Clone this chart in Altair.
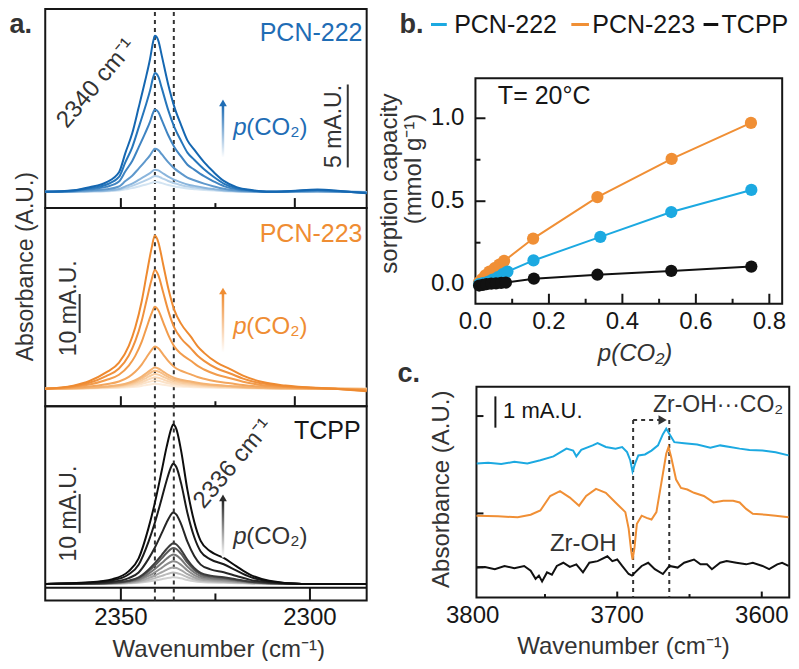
import altair as alt
import pandas as pd

# ======================= DATA =======================
# ---- panel a : CO2 band, normalised profiles (wavenumber / relative height)
A222_WN = [2370, 2362.6, 2358.3, 2353.9, 2350.5, 2348.8, 2347.0, 2345.3, 2343.6, 2342.3,
           2341.4, 2341.0, 2340.1, 2339.2, 2337.5, 2335.8, 2334.1, 2332.4, 2330.6, 2328.0,
           2325.4, 2322.8, 2319.4, 2315.1, 2310.8, 2305.0, 2298.0, 2292.0, 2285]
A222_PROF = [0.0, 0.01, 0.03, 0.06, 0.125, 0.25, 0.375, 0.54, 0.71, 0.85,
             0.97, 1.0, 0.97, 0.875, 0.69, 0.54, 0.43, 0.33, 0.27, 0.19,
             0.125, 0.07, 0.03, 0.01, 0.0, 0.005, 0.015, 0.005, -0.01]
A222_PEAK = [0.6, 0.95, 1.33, 2.59, 4.96, 7.16, 9.4]          # mA.U., rising p(CO2)
A222_COL = ["#d3e4f2", "#b4d0e9", "#8ab5dc", "#5e98cc", "#3f84c2", "#2676bb", "#1567b1"]

A223_WN = [2370, 2362.6, 2358.3, 2353.9, 2350.5, 2347.9, 2346.2, 2344.5, 2343.2, 2341.9,
           2341.0, 2340.1, 2338.8, 2337.5, 2335.8, 2334.1, 2331.5, 2329.7, 2328.0, 2324.6,
           2321.1, 2317.7, 2312.5, 2306.5, 2293.5, 2285]
A223_PROF = [0.0, 0.02, 0.05, 0.106, 0.17, 0.28, 0.40, 0.57, 0.745, 0.915,
             1.0, 0.957, 0.81, 0.66, 0.51, 0.425, 0.34, 0.277, 0.234, 0.17,
             0.128, 0.085, 0.043, 0.02, 0.0, -0.017]
A223_PEAK = [1.25, 2.1, 2.9, 3.75, 4.6, 5.4, 10.8, 21.0, 30.4, 39.2]
A223_COL = ["#fcebd9", "#fbe2c8", "#fad8b5", "#f8cda0", "#f6c08a", "#f4b373",
            "#f3a65d", "#f29c4c", "#f0913d", "#ee8a30"]

ATC_WN = [2370, 2358.3, 2352.2, 2347.9, 2345.3, 2342.7, 2341.0, 2339.2, 2337.9, 2336.6,
          2336.2, 2335.3, 2334.1, 2332.4, 2330.6, 2328.9, 2326.3, 2322.8, 2319.4, 2316.0,
          2310.8, 2302.1, 2285]
ATC_PROF = [0.0, 0.01, 0.03, 0.08, 0.16, 0.35, 0.51, 0.71, 0.86, 0.98,
            1.0, 0.97, 0.84, 0.59, 0.39, 0.27, 0.204, 0.163, 0.11, 0.06,
            0.02, 0.0, 0.0]
ATC_PEAK = [1.7, 2.9, 4.2, 5.8, 7.5, 9.2, 10.4, 18.3, 30.8, 40.8]
ATC_COL = ["#d0d0d0", "#bbbbbb", "#a5a5a5", "#8e8e8e", "#777777", "#5a5a5a",
           "#3c3c3c", "#262626", "#1a1a1a", "#0d0d0d"]

A_DASH = [2341, 2336]
A_TICK_TOP_MAJ = [2350, 2304]
A_TICK_MIN = [2325]
A_TICK_BOT_MAJ = [2350, 2300]
A_TICK_LABELS = ["2350", "2300"]

# ---- panel b : isotherms
B_NAMES = ["PCN-222", "PCN-223", "TCPP"]
B_P222 = [0.01, 0.02, 0.034, 0.047, 0.061, 0.074, 0.087, 0.158, 0.34, 0.533, 0.751]
B_Q222 = [0.0, 0.006, 0.014, 0.028, 0.042, 0.06, 0.076, 0.143, 0.285, 0.435, 0.568]
B_P223 = [0.01, 0.018, 0.027, 0.038, 0.052, 0.065, 0.078, 0.157, 0.332, 0.534, 0.75]
B_Q223 = [0.012, 0.03, 0.053, 0.076, 0.096, 0.118, 0.14, 0.275, 0.525, 0.755, 0.972]
B_PTC = [0.01, 0.02, 0.03, 0.043, 0.056, 0.07, 0.083, 0.159, 0.332, 0.533, 0.751]
B_QTC = [-0.008, -0.004, 0.0, 0.003, 0.005, 0.008, 0.01, 0.033, 0.057, 0.08, 0.106]
B_XT_MAJ = [0.2, 0.4, 0.6, 0.8]
B_XT_MIN = [0.1, 0.3, 0.5, 0.7]
B_XLAB = [0.0, 0.2, 0.4, 0.6, 0.8]
B_YT_MAJ = [0.0, 0.5, 1.0]
B_YT_MIN = [0.25, 0.75]

# ---- panel c : O-H region difference spectra (mA.U., stacked)
C_BLUE_WN = [3797.2, 3789.3, 3780.3, 3771.2, 3762.2, 3753.2, 3744.1, 3735.1, 3730.5, 3728.3,
             3724.9, 3717.0, 3713.6, 3707.9, 3701.2, 3696.6, 3693.2, 3691.0, 3689.4, 3687.6,
             3685.4, 3680.8, 3676.3, 3671.8, 3668.4, 3666.1, 3663.9, 3660.5, 3653.7, 3644.7,
             3635.6, 3628.8, 3622.0, 3615.3, 3608.5, 3599.5, 3590.4, 3581.5]
C_BLUE_Y = [4.10, 4.12, 4.08, 4.15, 4.10, 4.20, 4.32, 4.56, 4.50, 4.32,
            4.52, 4.66, 4.73, 4.61, 4.56, 4.61, 4.45, 4.20, 3.85, 4.10,
            4.35, 4.38, 4.50, 4.66, 5.01, 5.18, 5.01, 4.76, 4.73, 4.69,
            4.59, 4.66, 4.61, 4.56, 4.52, 4.50, 4.45, 4.35]
C_OR_WN = [3797.4, 3782.5, 3768.9, 3759.9, 3753.2, 3746.4, 3739.6, 3732.8, 3726.4, 3721.5,
           3714.7, 3707.9, 3701.2, 3694.4, 3692.1, 3690.3, 3689.4, 3688.1, 3686.4, 3683.1,
           3679.7, 3676.3, 3672.9, 3669.5, 3666.1, 3664.5, 3662.7, 3659.3, 3655.9, 3651.5,
           3646.9, 3640.1, 3633.4, 3626.6, 3619.8, 3615.3, 3610.8, 3606.2, 3597.2, 3590.4, 3581.5]
C_OR_Y = [2.48, 2.46, 2.43, 2.51, 2.64, 3.09, 3.24, 3.04, 2.79, 3.09,
          3.31, 3.19, 2.89, 2.59, 2.08, 1.37, 1.12, 1.47, 2.23, 2.48,
          2.41, 2.36, 2.59, 3.49, 4.40, 4.61, 4.30, 3.60, 3.34, 3.29,
          3.19, 3.09, 2.89, 2.94, 2.94, 2.89, 2.69, 2.54, 2.51, 2.48, 2.43]
C_BK_WN = [3797.4, 3791.5, 3784.7, 3778.0, 3771.2, 3764.4, 3759.9, 3756.5, 3754.2, 3752.0,
           3748.6, 3745.2, 3741.8, 3737.3, 3732.8, 3728.3, 3723.7, 3719.3, 3713.6, 3706.8,
           3703.4, 3700.0, 3696.6, 3692.1, 3689.8, 3687.6, 3683.1, 3678.6, 3674.0, 3668.4,
           3663.9, 3658.2, 3653.7, 3646.9, 3642.4, 3637.9, 3634.5, 3628.8, 3624.3, 3617.6,
           3610.8, 3606.2, 3599.5, 3594.9, 3589.3, 3585.9, 3581.5]
C_BK_Y = [0.87, 0.89, 0.82, 0.92, 0.85, 0.92, 0.77, 0.52, 0.62, 0.44,
          0.72, 0.65, 0.92, 1.02, 0.89, 0.97, 0.72, 1.02, 1.07, 1.22,
          1.07, 1.12, 0.92, 0.67, 0.62, 0.72, 0.92, 1.02, 0.82, 0.67,
          0.92, 0.87, 1.02, 1.12, 0.97, 0.97, 0.82, 1.02, 1.07, 1.02,
          0.97, 1.02, 0.92, 0.82, 0.97, 1.02, 0.92]
C_DASH = [3689, 3664]
C_XT_MAJ = [3700, 3600]
C_XT_MIN = [3750, 3650]
C_XLAB = [3800, 3700, 3600]
C_YT = [0.88, 2.55, 5.57]

# ======================= LAYOUT / STYLE =======================
W, H = 783, 653
SX, SY = W / 799, H / 669
def px(v): return v * SX
def py(v): return v * SY

FONT = "Liberation Sans"
INK = "#161616"
GREY = "#333333"
BLUE_D = "#1f6db5"
ORANGE_D = "#ef8d33"
BLUE_L = "#1ca9e1"
ORANGE_L = "#f08f35"
FS = 24

# ======================= helpers =======================
def X(sc): return alt.X("x:Q", scale=sc, axis=None)
def Y(sc): return alt.Y("y:Q", scale=sc, axis=None)

def frame(sx, sy, x0, x1, y0, y1):
    df = pd.DataFrame({"x": [x0], "x2": [x1], "y": [y0], "y2": [y1]})
    return alt.Chart(df).mark_rect(fillOpacity=0, stroke=INK, strokeWidth=2).encode(
        x=X(sx), x2="x2:Q", y=Y(sy), y2="y2:Q")

def vticks(sx, sy, xs, y0, length, width=2):
    df = pd.DataFrame({"x": xs, "y": [y0] * len(xs)})
    return alt.Chart(df).mark_rule(color=INK, strokeWidth=width, y2Offset=-length).encode(
        x=X(sx), y=Y(sy), y2="y:Q")

def hticks(sx, sy, ys, x0, length, width=2):
    df = pd.DataFrame({"y": ys, "x": [x0] * len(ys)})
    return alt.Chart(df).mark_rule(color=INK, strokeWidth=width, x2Offset=length).encode(
        x=X(sx), x2="x:Q", y=Y(sy))

def vrule(sx, sy, xs, y0, y1, color=GREY, dash=None, width=2):
    df = pd.DataFrame({"x": xs, "y": [y0] * len(xs), "y2": [y1] * len(xs)})
    kw = dict(color=color, strokeWidth=width)
    if dash:
        kw["strokeDash"] = list(dash)
    return alt.Chart(df).mark_rule(**kw).encode(x=X(sx), y=Y(sy), y2="y2:Q")

def hrule(sx, sy, x0, x1, y, color=INK, dash=None, width=2):
    df = pd.DataFrame({"x": [x0], "x2": [x1], "y": [y]})
    kw = dict(color=color, strokeWidth=width)
    if dash:
        kw["strokeDash"] = list(dash)
    return alt.Chart(df).mark_rule(**kw).encode(x=X(sx), x2="x2:Q", y=Y(sy))

def _as_list(v, n):
    return list(v) if isinstance(v, list) else [v] * n

def txt(sx, sy, x, y, t, size=FS, color=GREY, align="center", angle=0, style="normal",
        weight="normal", dx=0):
    n = max(len(v) if isinstance(v, list) else 1 for v in (x, y, t))
    df = pd.DataFrame({"x": _as_list(x, n), "y": _as_list(y, n), "t": _as_list(t, n)})
    kw = dict(font=FONT, fontSize=size, color=color, align=align, baseline="middle",
              fontStyle=style, fontWeight=weight, dx=dx)
    if angle:
        kw["angle"] = angle
    return alt.Chart(df).mark_text(**kw).encode(x=X(sx), y=Y(sy), text="t:N")

def grad_arrow(sx, sy, x, y0, y1, color):
    df = pd.DataFrame({"x": [x], "y": [y0], "y2": [y1]})
    g = alt.LinearGradient(gradient="linear",
                           stops=[alt.GradientStop(color="#ffffff", offset=0),
                                  alt.GradientStop(color=color, offset=1)],
                           x1=0, x2=0, y1=1, y2=0)
    shaft = alt.Chart(df).mark_rect(width=2.5, fill=g).encode(x=X(sx), y=Y(sy), y2="y2:Q")
    head = alt.Chart(pd.DataFrame({"x": [x], "y": [y1]})).mark_point(
        shape="triangle-up", filled=True, size=60, color=color, opacity=1, yOffset=-3).encode(
        x=X(sx), y=Y(sy))
    return [shaft, head]

def spectra(wn, prof, peaks, cols, sx, sy, tag):
    rows = []
    for i, a in enumerate(peaks):
        for w, v in zip(wn, prof):
            rows.append({"x": w, "y": a * v, "c": f"{tag}{i:02d}"})
    df = pd.DataFrame(rows)
    ids = [f"{tag}{i:02d}" for i in range(len(peaks))]
    return alt.Chart(df).mark_line(strokeWidth=2, interpolate="monotone").encode(
        x=X(sx), y=Y(sy),
        color=alt.Color("c:N", scale=alt.Scale(domain=ids, range=cols), legend=None))

def pco2(sx, sy, x, y, color):
    return [txt(sx, sy, x, y, "p", color=color, align="left", style="italic", size=24),
            txt(sx, sy, x, y, "(CO\u2082)", color=color, align="left", size=24, dx=13)]

# ======================= PANEL A =======================
XA = alt.Scale(domain=[2370, 2285], range=[px(38), px(366)], nice=False, zero=False)
A1_DOM = [-0.98, 11.02]
A2_DOM = [-4.5, 46.25]
A3_DOM = [-4.25, 45.5]
YA1 = alt.Scale(domain=A1_DOM, range=[py(205), py(1)], nice=False, zero=False)
YA2 = alt.Scale(domain=A2_DOM, range=[py(408), py(205)], nice=False, zero=False)
YA3 = alt.Scale(domain=A3_DOM, range=[py(607), py(408)], nice=False, zero=False)

sp1 = alt.layer(
    frame(XA, YA1, 2370, 2285, *A1_DOM),
    vrule(XA, YA1, A_DASH, *A1_DOM, dash=(4, 4)),
    vticks(XA, YA1, A_TICK_TOP_MAJ, A1_DOM[0], 10),
    vticks(XA, YA1, A_TICK_MIN, A1_DOM[0], 5),
    spectra(A222_WN, A222_PROF, A222_PEAK, A222_COL, XA, YA1, "b"),
    txt(XA, YA1, 2286.1, 9.6, "PCN-222", size=25, color=BLUE_D, align="right"),
    txt(XA, YA1, 2356.5, 6.53, "2340 cm\u207b\u00b9", angle=310),
    vrule(XA, YA1, [2290], 1.47, 6.47),
    txt(XA, YA1, 2293.6, 3.94, "5 mA.U.", angle=270, size=23),
    *grad_arrow(XA, YA1, 2323, 2.06, 5.18, BLUE_D),
    *pco2(XA, YA1, 2320.3, 3.82, BLUE_D),
    txt(XA, YA1, 2376.5, 10.06, "a.", size=27, color=GREY, weight="bold"),
)

sp2 = alt.layer(
    frame(XA, YA2, 2370, 2285, *A2_DOM),
    vrule(XA, YA2, A_DASH, *A2_DOM, dash=(4, 4)),
    vticks(XA, YA2, A_TICK_TOP_MAJ, A2_DOM[0], 10),
    vticks(XA, YA2, A_TICK_MIN, A2_DOM[0], 5),
    spectra(A223_WN, A223_PROF, A223_PEAK, A223_COL, XA, YA2, "o"),
    txt(XA, YA2, 2286.1, 39.5, "PCN-223", size=25, color=ORANGE_D, align="right"),
    vrule(XA, YA2, [2360.9], 14.25, 24.25),
    txt(XA, YA2, 2363.8, 20.6, "10 mA.U.", angle=270, size=23),
    *grad_arrow(XA, YA2, 2323, 9.25, 24.25, ORANGE_D),
    *pco2(XA, YA2, 2320.3, 15.75, ORANGE_D),
    # y-axis title of the whole panel a
    txt(XA, YA2, 2375.2, 31.25, "Absorbance (A.U.)", angle=270, size=23),
)

sp3 = alt.layer(
    frame(XA, YA3, 2370, 2285, *A3_DOM),
    hrule(XA, YA3, 2370, 2285, -1.0),
    vrule(XA, YA3, A_DASH, *A3_DOM, dash=(4, 4)),
    vticks(XA, YA3, A_TICK_BOT_MAJ, A3_DOM[0], 13),
    vticks(XA, YA3, A_TICK_MIN, A3_DOM[0], 7),
    spectra(ATC_WN, ATC_PROF, ATC_PEAK, ATC_COL, XA, YA3, "k"),
    txt(XA, YA3, 2286.6, 39.25, "TCPP", size=25, color=INK, align="right"),
    txt(XA, YA3, 2320.3, 30.75, "2336 cm\u207b\u00b9", angle=310),
    vrule(XA, YA3, [2360.9], 13, 23),
    txt(XA, YA3, 2363.8, 18, "10 mA.U.", angle=270, size=23),
    *grad_arrow(XA, YA3, 2323, 6.75, 21.25, "#2a2a2a"),
    *pco2(XA, YA3, 2320.3, 12, GREY),
    # x tick labels and title
    txt(XA, YA3, A_TICK_BOT_MAJ, -8.75, A_TICK_LABELS, size=FS, color=INK),
    txt(XA, YA3, 2324.1, -16.9, "Wavenumber (cm\u207b\u00b9)", size=FS),
)

panel_a = alt.layer(sp1, sp2, sp3).resolve_scale(y="independent", color="independent")

# ======================= PANEL B =======================
XB = alt.Scale(domain=[0, 0.835], range=[px(477), px(790)], nice=False, zero=False)
YB = alt.Scale(domain=[-0.118, 1.241], range=[py(303), py(72)], nice=False, zero=False)

rows = []
for name, ps, qs in [("PCN-223", B_P223, B_Q223), ("PCN-222", B_P222, B_Q222),
                     ("TCPP", B_PTC, B_QTC)]:
    for p, q in zip(ps, qs):
        rows.append({"x": p, "y": q, "s": name})
iso = pd.DataFrame(rows)
b_color_scale = alt.Scale(domain=B_NAMES, range=[BLUE_L, ORANGE_L, "#111111"])

b_lines = alt.Chart(iso).mark_line(strokeWidth=2).encode(
    x=X(XB), y=Y(YB), color=alt.Color("s:N", scale=b_color_scale, legend=None))
b_pts = alt.Chart(iso).mark_circle(size=150, opacity=1).encode(
    x=X(XB), y=Y(YB), color=alt.Color("s:N", scale=b_color_scale, legend=None))

# legend (drawn in panel-b coordinates, above the plot)
LEG_Y = 1.565
leg_sym = pd.DataFrame({"x": [-0.121, 0.261, 0.621], "x2": [-0.078, 0.309, 0.661],
                        "y": [LEG_Y] * 3, "s": B_NAMES})
leg_syms = alt.Chart(leg_sym).mark_rule(strokeWidth=3).encode(
    x=X(XB), x2="x2:Q", y=Y(YB), color=alt.Color("s:N", scale=b_color_scale, legend=None))
leg_txt = txt(XB, YB, [-0.058, 0.318, 0.670], LEG_Y, B_NAMES, size=25, color=INK, align="left")

panel_b = alt.layer(
    frame(XB, YB, 0, 0.835, -0.118, 1.241),
    vticks(XB, YB, B_XT_MAJ, -0.118, 10),
    vticks(XB, YB, B_XT_MIN, -0.118, 5),
    hticks(XB, YB, B_YT_MAJ, 0, 10),
    hticks(XB, YB, B_YT_MIN, 0, 5),
    b_lines, b_pts, leg_syms, leg_txt,
    txt(XB, YB, B_XLAB, -0.229, [f"{v:.1f}" for v in B_XLAB], color=INK),
    txt(XB, YB, -0.030, B_YT_MAJ, [f"{v:.1f}" for v in B_YT_MAJ], color=INK, align="right"),
    txt(XB, YB, 0.4346, -0.4235, "p(CO\u2082)", style="italic"),
    txt(XB, YB, -0.233, 0.606, "sorption capacity", angle=270),
    txt(XB, YB, -0.166, 0.694, "(mmol g\u207b\u00b9)", angle=270),
    txt(XB, YB, 0.061, 1.135, "T= 20\u00b0C", size=25, color=INK, align="left"),
    txt(XB, YB, -0.174, 1.565, "b.", size=27, color=GREY, weight="bold"),
)

# ======================= PANEL C =======================
XC = alt.Scale(domain=[3800, 3581], range=[px(474.2), px(797.2)], nice=False, zero=False)
YC = alt.Scale(domain=[-0.06, 6.48], range=[py(604), py(388)], nice=False, zero=False)

rows = []
for name, ws, ys in [("PCN-222", C_BLUE_WN, C_BLUE_Y), ("PCN-223", C_OR_WN, C_OR_Y),
                     ("TCPP", C_BK_WN, C_BK_Y)]:
    for w, v in zip(ws, ys):
        rows.append({"x": w, "y": v, "s": name})
oh = pd.DataFrame(rows)
c_lines = alt.Chart(oh).mark_line(strokeWidth=2).encode(
    x=X(XC), y=Y(YC),
    color=alt.Color("s:N", scale=alt.Scale(domain=B_NAMES, range=[BLUE_L, ORANGE_L, "#111111"]),
                    legend=None))

c_head = alt.Chart(pd.DataFrame({"x": [3668.6], "y": [5.45]})).mark_point(
    shape="triangle-right", filled=True, size=90, color=GREY, opacity=1).encode(x=X(XC), y=Y(YC))

panel_c = alt.layer(
    frame(XC, YC, 3797.4, 3581, -0.06, 6.48),
    vticks(XC, YC, C_XT_MAJ, -0.06, 6),
    vticks(XC, YC, C_XT_MIN, -0.06, 3.5),
    hticks(XC, YC, C_YT, 3797.4, 7),
    vrule(XC, YC, C_DASH, 5.45, -0.06, dash=(4, 4)),
    hrule(XC, YC, 3689, 3671, 5.45, color=GREY, dash=(4, 4)),
    c_head,
    c_lines,
    vrule(XC, YC, [3784.3], 5.21, 6.18, color=INK),
    txt(XC, YC, 3779, 5.73, "1 mA.U.", size=22, color=INK, align="left"),
    txt(XC, YC, 3675.3, 5.91, "Zr-OH\u00b7\u00b7\u00b7CO\u2082", size=23, color=GREY, align="left"),
    txt(XC, YC, 3723.5, 1.6, "Zr-OH", size=24, color=GREY),
    txt(XC, YC, 3844.2, 6.88, "c.", size=27, color=GREY, weight="bold"),
    txt(XC, YC, C_XLAB, -0.636, [str(v) for v in C_XLAB], color=INK),
    txt(XC, YC, 3695.7, -1.606, "Wavenumber (cm\u207b\u00b9)"),
    txt(XC, YC, 3821.2, 3.30, "Absorbance (A.U.)", angle=270),
)

chart = alt.layer(panel_a, panel_b, panel_c).resolve_scale(
    x="independent", y="independent", color="independent"
).properties(
    width=W, height=H, padding=0, autosize=alt.AutoSizeParams(type="none")
).configure(font=FONT).configure_view(stroke=None)

chart.save("out.html", embed_options={"renderer": "svg", "actions": False})
